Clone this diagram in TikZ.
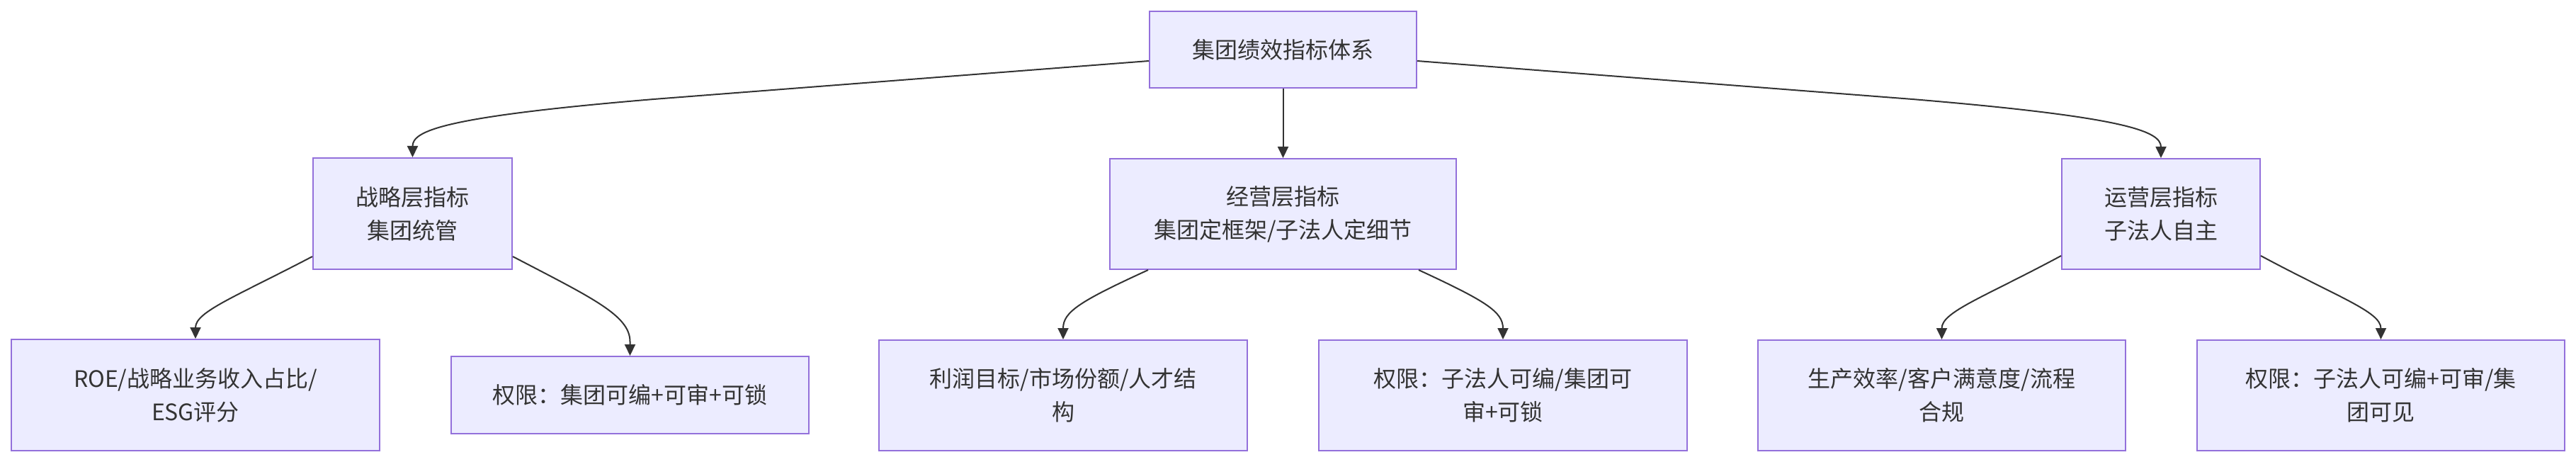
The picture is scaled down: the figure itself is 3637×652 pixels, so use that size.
\documentclass[tikz,border=0pt]{standalone}
\usepackage{fontspec}
\setmainfont{Noto Sans CJK SC}
\usetikzlibrary{arrows.meta}
\definecolor{nodefill}{HTML}{ECECFF}
\definecolor{nodeline}{HTML}{9370DB}
\definecolor{edgecol}{HTML}{333333}
\definecolor{textcol}{HTML}{333333}
\begin{document}
\begin{tikzpicture}[x=1pt,y=-1pt,
  box/.style={draw=nodeline,fill=nodefill,line width=2pt,inner sep=0pt,align=center,text=textcol,font=\fontsize{32}{47}\selectfont},
  edge/.style={draw=edgecol,line width=2pt,-{Triangle[length=16pt,width=15pt]}}]
\useasboundingbox[fill=white] (0,0) rectangle (3637,652);
\node[box,minimum width=377pt,minimum height=108pt] (root) at (1811.5,70) {集团绩效指标体系};
\node[box,minimum width=281pt,minimum height=157pt] (zl) at (582.5,301.5) {战略层指标\\集团统管};
\node[box,minimum width=489pt,minimum height=156pt] (jy) at (1811.5,302) {经营层指标\\集团定框架/子法人定细节};
\node[box,minimum width=280pt,minimum height=156pt] (yy) at (3051,302) {运营层指标\\子法人自主};
\node[box,minimum width=520pt,minimum height=157pt] (roe) at (276,557.5) {ROE/战略业务收入占比/\\ESG评分};
\node[box,minimum width=505pt,minimum height=109pt] (qx1) at (889.5,557.5) {权限：集团可编+可审+可锁};
\node[box,minimum width=520pt,minimum height=156pt] (lr) at (1501,558) {利润目标/市场份额/人才结\\构};
\node[box,minimum width=520pt,minimum height=156pt] (qx2) at (2122,558) {权限：子法人可编/集团可\\审+可锁};
\node[box,minimum width=519pt,minimum height=156pt] (sc) at (2741.5,558) {生产效率/客户满意度/流程\\合规};
\node[box,minimum width=519pt,minimum height=156pt] (qx3) at (3361.5,558) {权限：子法人可编+可审/集\\团可见};

\draw[edge] ([yshift=-16pt]root.west) -- (923,140) .. controls (623,165) and (582.5,185) .. (zl.north);
\draw[edge] (root.south) -- (jy.north);
\draw[edge] ([yshift=-16pt]root.east) -- (2700,140) .. controls (3000,165) and (3051,185) .. (yy.north);

\draw[edge] ([yshift=19pt]zl.south west) .. controls (330,420) and (276,440) .. (roe.north);
\draw[edge] ([yshift=19pt]zl.south east) .. controls (835,420) and (889.5,445) .. (889.5,482) -- (qx1.north);
\draw[edge] ([xshift=55pt]jy.south west) .. controls (1525,425) and (1501,440) .. (lr.north);
\draw[edge] ([xshift=-54pt]jy.south east) .. controls (2098,425) and (2122,440) .. (qx2.north);
\draw[edge] ([yshift=20pt]yy.south west) .. controls (2800,420) and (2741.5,440) .. (sc.north);
\draw[edge] ([yshift=20pt]yy.south east) .. controls (3302,420) and (3361.5,440) .. (qx3.north);
\end{tikzpicture}
\end{document}
